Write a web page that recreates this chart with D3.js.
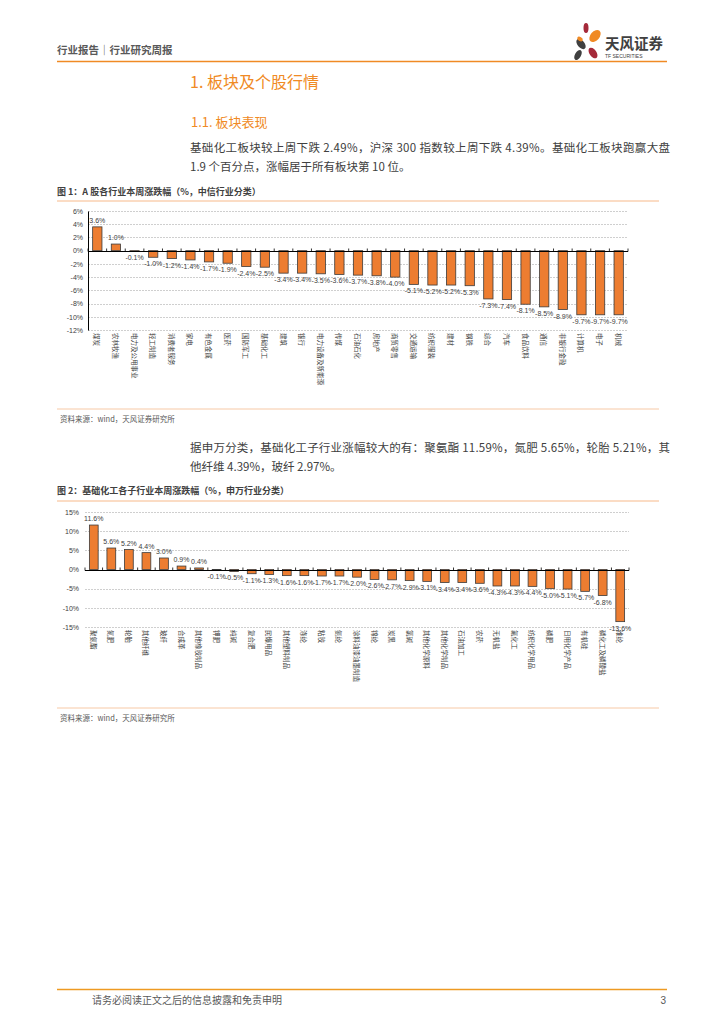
<!DOCTYPE html>
<html><head><meta charset="utf-8">
<script src="https://cdn.jsdelivr.net/npm/d3@7"></script>
<style>
body{margin:0;background:#fff;}
svg{display:block;}
</style></head>
<body>
<svg id="page" width="724" height="1024"></svg>
<script>
// ---- Data ----
const cats1 = ["煤炭","农林牧渔","电力及公用事业","轻工制造","消费者服务","家电","有色金属","医药","国防军工","基础化工","建筑","银行","电力设备及新能源","传媒","石油石化","房地产","商贸零售","交通运输","纺织服装","建材","钢铁","综合","汽车","食品饮料","通信","非银行金融","计算机","电子","机械"];
const vals1 = [3.6,1.0,-0.1,-1.0,-1.2,-1.4,-1.7,-1.9,-2.4,-2.5,-3.4,-3.4,-3.5,-3.6,-3.7,-3.8,-4.0,-5.1,-5.2,-5.2,-5.3,-7.3,-7.4,-8.1,-8.5,-8.9,-9.7,-9.7,-9.7];
const ticks1 = [6,4,2,0,-2,-4,-6,-8,-10,-12];

const cats2 = ["聚氨酯","氮肥","轮胎","其他纤维","玻纤","合成革","其他橡胶制品","钾肥","纯碱","复合肥","民爆用品","其他塑料制品","涤纶","粘胶","氨纶","涂料油漆油墨制造","锦纶","炭黑","氯碱","其他化学原料","其他化学制品","石油加工","农药","无机盐","氟化工","纺织化学用品","磷肥","日用化学产品","有机硅","磷化工及磷酸盐","维纶"];
const vals2 = [11.6,5.6,5.2,4.4,3.0,0.9,0.4,-0.1,-0.5,-1.1,-1.3,-1.6,-1.6,-1.7,-1.7,-2.0,-2.6,-2.7,-2.9,-3.1,-3.4,-3.4,-3.6,-4.3,-4.3,-4.4,-5.0,-5.1,-5.7,-6.8,-13.6];
const ticks2 = [15,10,5,0,-5,-10,-15];

// ---- Page ----
const svg = d3.select("#page");
const CJK = "'Noto Sans CJK SC','Noto Sans',sans-serif";
const NUM = "'Liberation Sans',Arial,sans-serif";
const ORANGE = "#F08A24";

// header
svg.append("text").attr("x",57).attr("y",54).attr("font-family",CJK).attr("font-size",10.5).attr("font-weight","bold").attr("fill","#595959").text("行业报告｜行业研究周报");
svg.append("line").attr("x1",57).attr("x2",667).attr("y1",61.5).attr("y2",61.5).attr("stroke",ORANGE).attr("stroke-width",1.5);
// logo petals
const logo = svg.append("g");
logo.append("ellipse").attr("cx",581).attr("cy",44).attr("rx",3.5).attr("ry",6).attr("transform","rotate(-40,581,44)").attr("fill","#404040");
logo.append("ellipse").attr("cx",586).attr("cy",28).attr("rx",2.5).attr("ry",5).attr("fill","#A52A3A");
logo.append("ellipse").attr("cx",595).attr("cy",36).attr("rx",4.5).attr("ry",7).attr("transform","rotate(40,595,36)").attr("fill",ORANGE);
logo.append("ellipse").attr("cx",578).attr("cy",55).attr("rx",3).attr("ry",5.5).attr("transform","rotate(30,578,55)").attr("fill","#404040");
logo.append("ellipse").attr("cx",593).attr("cy",53).attr("rx",3.5).attr("ry",6).attr("transform","rotate(-35,593,53)").attr("fill","#A52A3A");
logo.append("ellipse").attr("cx",580).attr("cy",39).attr("rx",2).attr("ry",3).attr("transform","rotate(-60,580,39)").attr("fill",ORANGE);
svg.append("text").attr("x",605).attr("y",49).attr("font-family",CJK).attr("font-size",14.5).attr("font-weight","bold").attr("fill","#404040").text("天风证券");
svg.append("text").attr("x",605).attr("y",58).attr("font-family",NUM).attr("font-size",5).attr("fill","#404040").text("TF SECURITIES");

// headings
svg.append("text").attr("x",190).attr("y",88).attr("font-family",CJK).attr("font-size",16).attr("fill",ORANGE).text("1. 板块及个股行情");
svg.append("text").attr("x",191).attr("y",127).attr("font-family",CJK).attr("font-size",13).attr("fill",ORANGE).text("1.1. 板块表现");

function para(y, txt){
  svg.append("text").attr("x",190).attr("y",y).attr("font-family",CJK).attr("font-size",11.5).attr("fill","#404040").attr("textLength", txt.w||null).attr("lengthAdjust","spacing").text(txt.t);
}
para(152,{t:"基础化工板块较上周下跌 2.49%，沪深 300 指数较上周下跌 4.39%。基础化工板块跑赢大盘",w:480});
para(171,{t:"1.9 个百分点，涨幅居于所有板块第 10 位。"});
para(452,{t:"据申万分类，基础化工子行业涨幅较大的有：聚氨酯 11.59%，氮肥 5.65%，轮胎 5.21%，其",w:480});
para(471,{t:"他纤维 4.39%，玻纤 2.97%。"});

// figure titles & source
function figTitle(y,t){
  svg.append("text").attr("x",57).attr("y",y).attr("font-family",CJK).attr("font-size",9).attr("font-weight","bold").attr("fill","#404040").text(t);
}
figTitle(195,"图 1：A 股各行业本周涨跌幅（%，中信行业分类）");
svg.append("line").attr("x1",57).attr("x2",659).attr("y1",201).attr("y2",201).attr("stroke","#F7B98A").attr("stroke-width",1);
figTitle(494,"图 2：基础化工各子行业本周涨跌幅（%，申万行业分类）");
svg.append("line").attr("x1",57).attr("x2",659).attr("y1",501).attr("y2",501).attr("stroke","#F7B98A").attr("stroke-width",1);

function source(yLine){
  svg.append("line").attr("x1",57).attr("x2",659).attr("y1",yLine).attr("y2",yLine).attr("stroke","#F7C9A6").attr("stroke-width",1);
  svg.append("text").attr("x",60).attr("y",yLine+13).attr("font-family",CJK).attr("font-size",7.5).attr("fill","#595959").text("资料来源：wind，天风证券研究所");
}
source(409);
source(708);

// footer
svg.append("line").attr("x1",57).attr("x2",667).attr("y1",989.5).attr("y2",989.5).attr("stroke","#EE9A22").attr("stroke-width",1.5);
svg.append("text").attr("x",92).attr("y",1004).attr("font-family",CJK).attr("font-size",10).attr("fill","#595959").text("请务必阅读正文之后的信息披露和免责申明");
svg.append("text").attr("x",666).attr("y",1004).attr("text-anchor","end").attr("font-family",NUM).attr("font-size",10).attr("fill","#595959").text("3");

// ---- Chart builder ----
function barChart(opt){
  const {cats, vals, ticks, x0, x1, yTop, yBot, yAxisLine, labelY, tickLabelX} = opt;
  const g = svg.append("g");
  const x = d3.scaleBand().domain(cats).range([x0,x1]).paddingInner(0.5).paddingOuter(0.25);
  const y = d3.scaleLinear().domain([ticks[ticks.length-1], ticks[0]]).range([yBot,yTop]);
  // gridlines
  g.append("g").selectAll("line").data(ticks.filter(t=>t!==0)).join("line")
    .attr("x1",x0).attr("x2",x1).attr("y1",d=>Math.round(y(d))+0.5).attr("y2",d=>Math.round(y(d))+0.5)
    .attr("stroke","#cfcfcf").attr("stroke-width",1).attr("stroke-dasharray","2,1");
  // y axis
  const ax = g.append("g").attr("transform",`translate(${x0},0)`)
    .call(d3.axisLeft(y).tickValues(ticks).tickSize(0).tickPadding(tickLabelX).tickFormat(d=>d+"%"));
  ax.select(".domain").attr("stroke", yAxisLine ? "#000" : "none");
  ax.selectAll("text").attr("font-family",NUM).attr("font-size",7).attr("fill","#404040");
  // bars
  g.append("g").selectAll("rect").data(vals).join("rect")
    .attr("x",(d,i)=>x(cats[i])).attr("width",x.bandwidth())
    .attr("y",d=>y(Math.max(0,d))).attr("height",d=>Math.abs(y(d)-y(0)))
    .attr("fill","#ED7D31").attr("stroke","#3b3b3b").attr("stroke-width",0.8);
  // zero line + category ticks
  const y0 = Math.round(y(0))+0.5;
  g.append("line").attr("x1",x0).attr("x2",x1).attr("y1",y0).attr("y2",y0).attr("stroke","#000").attr("stroke-width",1);
  const step = x.step();
  g.append("g").selectAll("line").data(d3.range(cats.length+1)).join("line")
    .attr("x1",i=>x0+i*(x1-x0)/cats.length).attr("x2",i=>x0+i*(x1-x0)/cats.length)
    .attr("y1",y0).attr("y2",y0-3).attr("stroke","#000").attr("stroke-width",0.8);
  // value labels
  g.append("g").selectAll("text").data(vals).join("text")
    .attr("x",(d,i)=>x(cats[i])+x.bandwidth()/2)
    .attr("y",d=> d>=0 ? y(d)-4 : y(d)+9)
    .attr("text-anchor","middle").attr("font-family",NUM).attr("font-size",7).attr("fill","#404040")
    .text(d=>d.toFixed(1)+"%");
  // category labels (vertical)
  g.append("g").selectAll("text").data(cats).join("text")
    .attr("transform",d=>`translate(${x(d)+x.bandwidth()/2-3},${labelY}) rotate(90)`)
    .attr("font-family",CJK).attr("font-size",6.5).attr("fill","#404040")
    .text(d=>d);
}

barChart({cats:cats1, vals:vals1, ticks:ticks1, x0:88, x1:628, yTop:211, yBot:330, yAxisLine:true, labelY:333, tickLabelX:5});
barChart({cats:cats2, vals:vals2, ticks:ticks2, x0:85, x1:629, yTop:512, yBot:627, yAxisLine:false, labelY:630, tickLabelX:6});
</script>
</body></html>
